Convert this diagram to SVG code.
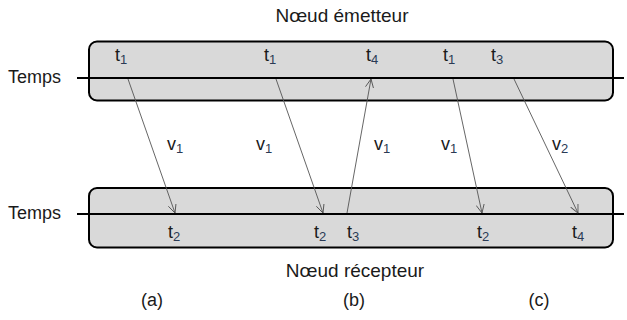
<svg xmlns="http://www.w3.org/2000/svg" width="627" height="320" viewBox="0 0 627 320">
<defs>
<marker id="ah" viewBox="0 0 10 10" refX="9.5" refY="5" markerWidth="9" markerHeight="9" markerUnits="userSpaceOnUse" orient="auto">
<path d="M0,0.5 L9.5,5 L0,9.5" fill="none" stroke="#555" stroke-width="1"/>
</marker>
</defs>
<style>
text{font-family:"Liberation Sans",Arial,sans-serif;fill:#1a1a1a;font-size:18px}
.ttl{font-size:19px}
.sub{font-size:13px;fill:#2a3a55}
.box{fill:#d9d9d9;stroke:#000;stroke-width:2}
.tl{stroke:#000;stroke-width:2}
.arr{stroke:#555;stroke-width:0.9;fill:none;marker-end:url(#ah)}
</style>
<rect width="627" height="320" fill="#fff"/>
<g id="emetteur">
<rect class="box" x="89" y="41.5" width="524" height="59" rx="8"/>
<line class="tl" x1="77" y1="78" x2="624" y2="78"/>
<text x="8" y="83">Temps</text>
<text class="ttl" x="342" y="22" text-anchor="middle">Nœud émetteur</text>
<text x="115" y="61">t<tspan class="sub" dy="3">1</tspan></text>
<text x="264" y="61">t<tspan class="sub" dy="3">1</tspan></text>
<text x="366" y="61">t<tspan class="sub" dy="3">4</tspan></text>
<text x="443" y="61">t<tspan class="sub" dy="3">1</tspan></text>
<text x="491" y="61">t<tspan class="sub" dy="3">3</tspan></text>
</g>
<g id="recepteur">
<rect class="box" x="89" y="188" width="524" height="59.5" rx="8"/>
<line class="tl" x1="77" y1="214" x2="624" y2="214"/>
<text x="8" y="219">Temps</text>
<text class="ttl" x="355" y="277" text-anchor="middle">Nœud récepteur</text>
<text x="168" y="238">t<tspan class="sub" dy="3">2</tspan></text>
<text x="314" y="238">t<tspan class="sub" dy="3">2</tspan></text>
<text x="347" y="238">t<tspan class="sub" dy="3">3</tspan></text>
<text x="477" y="238">t<tspan class="sub" dy="3">2</tspan></text>
<text x="572" y="238">t<tspan class="sub" dy="3">4</tspan></text>
</g>
<g id="connectors">
<line class="arr" x1="128" y1="79" x2="175" y2="213"/>
<line class="arr" x1="276" y1="79" x2="323" y2="213"/>
<line class="arr" x1="347" y1="213" x2="371" y2="79"/>
<line class="arr" x1="453" y1="79" x2="482" y2="213"/>
<line class="arr" x1="514" y1="79" x2="578" y2="213"/>
</g>
<g id="labels">
<text x="167" y="150">v<tspan class="sub" dy="3">1</tspan></text>
<text x="256" y="150">v<tspan class="sub" dy="3">1</tspan></text>
<text x="374" y="150">v<tspan class="sub" dy="3">1</tspan></text>
<text x="441" y="150">v<tspan class="sub" dy="3">1</tspan></text>
<text x="552" y="150">v<tspan class="sub" dy="3">2</tspan></text>
<text x="152" y="306" text-anchor="middle">(a)</text>
<text x="354" y="306" text-anchor="middle">(b)</text>
<text x="539" y="306" text-anchor="middle">(c)</text>
</g>
</svg>
